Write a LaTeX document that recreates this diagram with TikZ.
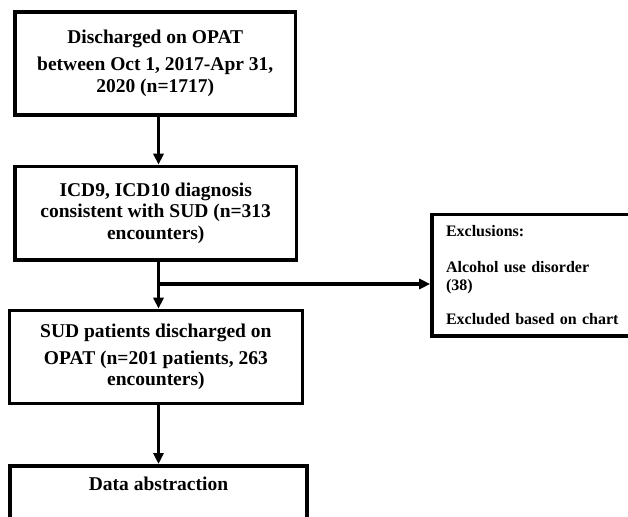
\documentclass[tikz,border=0pt]{standalone}
\usepackage{fontspec}
\setmainfont{Liberation Serif}
\usetikzlibrary{arrows.meta}
\begin{document}
\begin{tikzpicture}[x=1pt,y=-1pt,
  boxnode/.style={draw=black,line width=3.6pt,rectangle,inner sep=0pt,
    font=\bfseries\fontsize{19.5}{21.5}\selectfont,align=center},
  exbox/.style={draw=black,line width=3.6pt,rectangle,inner xsep=14pt,inner ysep=0pt,
    font=\bfseries\fontsize{16}{18}\selectfont,align=left},
  conn/.style={line width=3.2pt,draw=black},
  arr/.style={conn,-{Triangle[length=11pt,width=10pt]}}]
\useasboundingbox (0,0) rectangle (628,516);
\clip (0,0) rectangle (628,516);
\fill[white] (0,0) rectangle (628,516);
\coordinate (spine) at (158.5,0);
\node[boxnode,minimum width=280.5pt,minimum height=103pt] (b1) at (155.25,63.5)
  {Discharged on OPAT\\[5.5pt]between Oct 1, 2017-Apr 31,\\2020 (n=1717)};
\node[boxnode,minimum width=281.5pt,minimum height=93.5pt] (b2) at (155.75,213.25)
  {ICD9, ICD10 diagnosis\\consistent with SUD (n=313\\encounters)};
\node[boxnode,minimum width=293.2pt,minimum height=93pt] (b3) at (155.9,357)
  {SUD patients discharged on\\[5.5pt]OPAT (n=201 patients, 263\\encounters)};
\node[boxnode,minimum width=297pt,minimum height=120pt,anchor=north] (b4) at (158.5,464) {};
\node[font=\bfseries\fontsize{19.5}{21.5}\selectfont,anchor=base,inner sep=0pt] (t4) at (158.5,490.7) {Data abstraction};
\node[exbox,text width=200pt,minimum height=121.6pt] (ex) at (546,275.2)
  {Exclusions:\\[18pt]Alcohol use disorder\\(38)\\[16pt]Excluded based on chart};
\coordinate (br) at (158.5,284);
\draw[arr] (b1.south -| spine) -- (b2.north -| spine);
\draw[arr] (b2.south -| spine) -- (b3.north -| spine);
\draw[arr] (b3.south -| spine) -- (b4.north -| spine);
\draw[arr] (br) -- (ex.west |- br);
\end{tikzpicture}
\end{document}
